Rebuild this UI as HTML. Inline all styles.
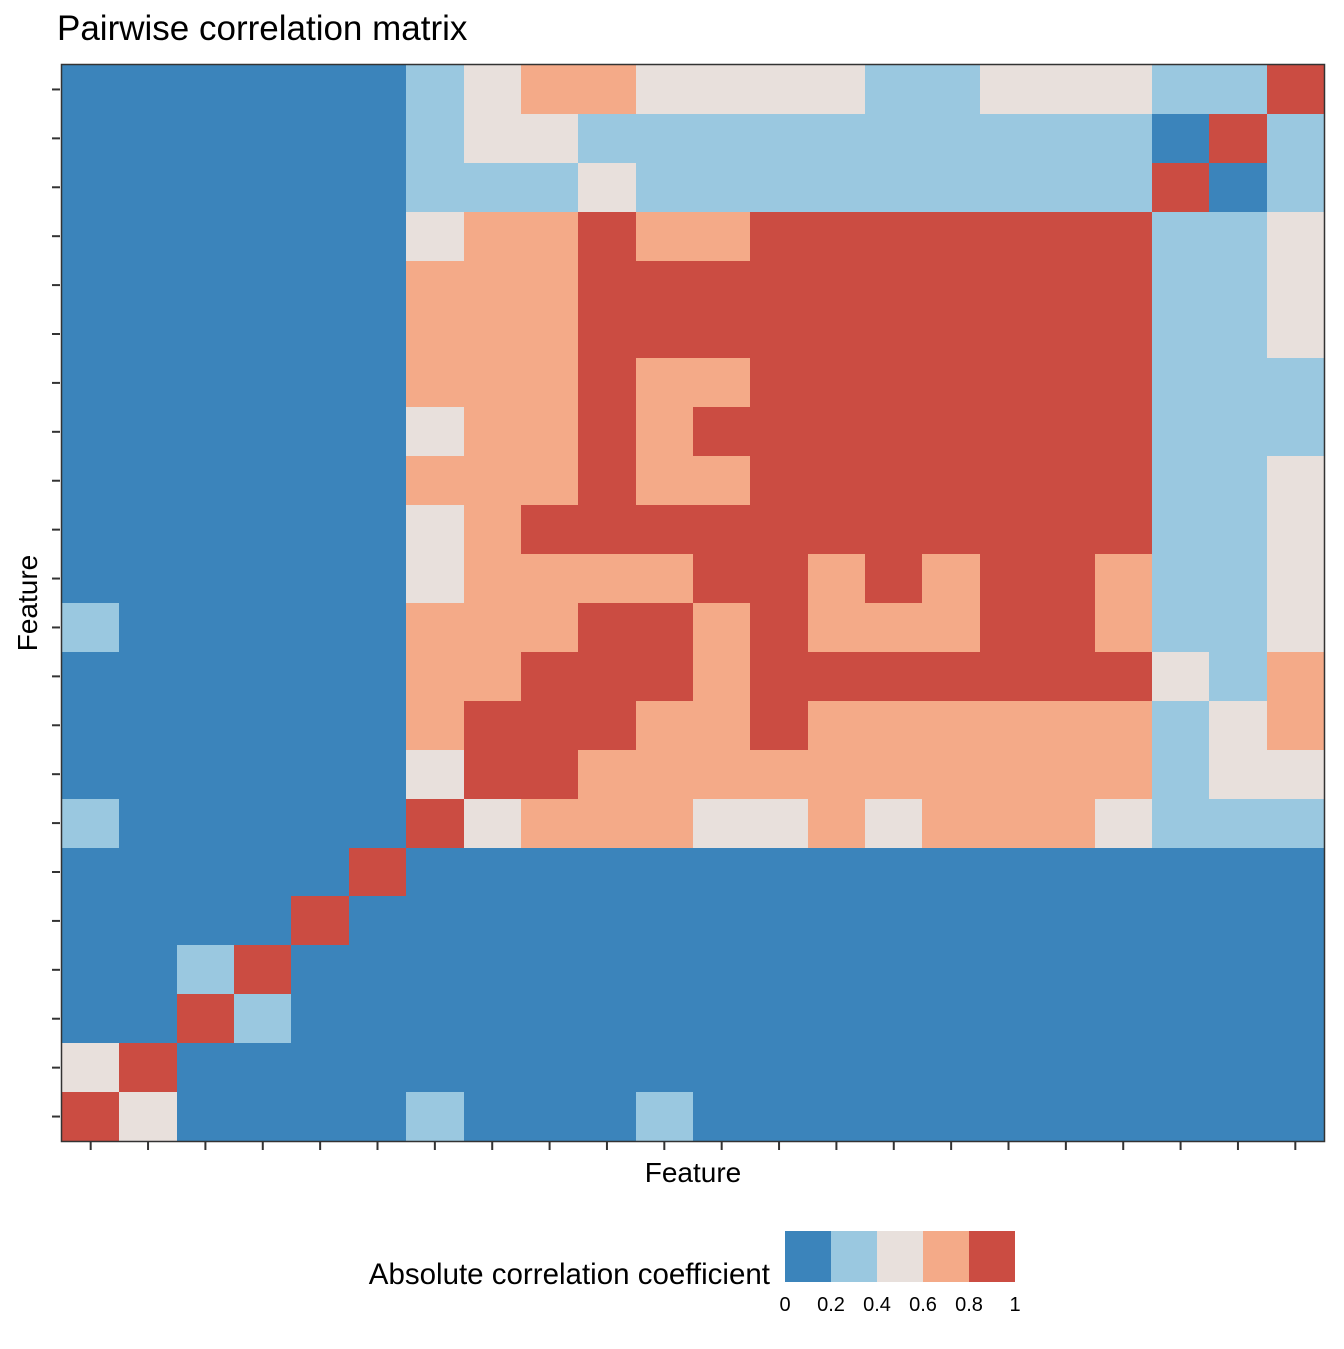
<!DOCTYPE html>
<html><head><meta charset="utf-8">
<style>
body{margin:0;background:#fff;}
svg text{font-family:"Liberation Sans",Arial,sans-serif;fill:#000;}
</style></head>
<body>
<svg id="chart" width="1344" height="1344" xmlns="http://www.w3.org/2000/svg">
<rect width="1344" height="1344" fill="#fff"/>
<text x="57" y="40" font-size="35">Pairwise correlation matrix</text>
<g id="cells" shape-rendering="crispEdges"></g>
<rect x="61.5" y="64.5" width="1263" height="1077" fill="none" stroke="#333" stroke-width="1.5"/>
<g id="ticks"></g>
<text x="693" y="1182" font-size="28" text-anchor="middle">Feature</text>
<text transform="translate(37,603) rotate(-90)" font-size="28" text-anchor="middle">Feature</text>
<text x="770" y="1284" font-size="29.5" text-anchor="end">Absolute correlation coefficient</text>
<g id="legend" shape-rendering="crispEdges"></g>
</svg>
<script>
const categoryColors = ["#3b84bb","#9ac8e0","#e8e0dc","#f4aa88","#cb4c42"];
const legendLabels = ["0","0.2","0.4","0.6","0.8","1"];
const matrix = [
[0,0,0,0,0,0,1,2,3,3,2,2,2,2,1,1,2,2,2,1,1,4],
[0,0,0,0,0,0,1,2,2,1,1,1,1,1,1,1,1,1,1,0,4,1],
[0,0,0,0,0,0,1,1,1,2,1,1,1,1,1,1,1,1,1,4,0,1],
[0,0,0,0,0,0,2,3,3,4,3,3,4,4,4,4,4,4,4,1,1,2],
[0,0,0,0,0,0,3,3,3,4,4,4,4,4,4,4,4,4,4,1,1,2],
[0,0,0,0,0,0,3,3,3,4,4,4,4,4,4,4,4,4,4,1,1,2],
[0,0,0,0,0,0,3,3,3,4,3,3,4,4,4,4,4,4,4,1,1,1],
[0,0,0,0,0,0,2,3,3,4,3,4,4,4,4,4,4,4,4,1,1,1],
[0,0,0,0,0,0,3,3,3,4,3,3,4,4,4,4,4,4,4,1,1,2],
[0,0,0,0,0,0,2,3,4,4,4,4,4,4,4,4,4,4,4,1,1,2],
[0,0,0,0,0,0,2,3,3,3,3,4,4,3,4,3,4,4,3,1,1,2],
[1,0,0,0,0,0,3,3,3,4,4,3,4,3,3,3,4,4,3,1,1,2],
[0,0,0,0,0,0,3,3,4,4,4,3,4,4,4,4,4,4,4,2,1,3],
[0,0,0,0,0,0,3,4,4,4,3,3,4,3,3,3,3,3,3,1,2,3],
[0,0,0,0,0,0,2,4,4,3,3,3,3,3,3,3,3,3,3,1,2,2],
[1,0,0,0,0,0,4,2,3,3,3,2,2,3,2,3,3,3,2,1,1,1],
[0,0,0,0,0,4,0,0,0,0,0,0,0,0,0,0,0,0,0,0,0,0],
[0,0,0,0,4,0,0,0,0,0,0,0,0,0,0,0,0,0,0,0,0,0],
[0,0,1,4,0,0,0,0,0,0,0,0,0,0,0,0,0,0,0,0,0,0],
[0,0,4,1,0,0,0,0,0,0,0,0,0,0,0,0,0,0,0,0,0,0],
[2,4,0,0,0,0,0,0,0,0,0,0,0,0,0,0,0,0,0,0,0,0],
[4,2,0,0,0,0,1,0,0,0,1,0,0,0,0,0,0,0,0,0,0,0]
];
const NS="http://www.w3.org/2000/svg";
const x0=62,x1=1324,y0=65,y1=1141;
const n=matrix.length;
const cw=(x1-x0)/n, ch=(y1-y0)/n;
const xPos=i=>x0+i*cw, yPos=j=>y0+j*ch;
const cells=document.getElementById('cells');
matrix.forEach((row,j)=>row.forEach((v,i)=>{
  const r=document.createElementNS(NS,'rect');
  const xa=Math.round(xPos(i)), xb=Math.round(xPos(i+1));
  const ya=Math.round(yPos(j)), yb=Math.round(yPos(j+1));
  r.setAttribute('x',xa);r.setAttribute('y',ya);
  r.setAttribute('width',xb-xa);r.setAttribute('height',yb-ya);
  r.setAttribute('fill',categoryColors[v]);
  
  
  cells.appendChild(r);
}));
const ticks=document.getElementById('ticks');
for(let k=0;k<n;k++){
  const tx=document.createElementNS(NS,'line');
  const cx=xPos(k)+cw/2;
  tx.setAttribute('x1',cx);tx.setAttribute('x2',cx);tx.setAttribute('y1',1142);tx.setAttribute('y2',1150);
  tx.setAttribute('stroke','#333');tx.setAttribute('stroke-width','2');
  
  
  ticks.appendChild(tx);
  const ty=document.createElementNS(NS,'line');
  const cy=yPos(k)+ch/2;
  ty.setAttribute('x1',52);ty.setAttribute('x2',60);ty.setAttribute('y1',cy);ty.setAttribute('y2',cy);
  ty.setAttribute('stroke','#333');ty.setAttribute('stroke-width','2');
  
  
  ticks.appendChild(ty);
}
const legend=document.getElementById('legend');
const lx=785,lw=46,ly=1231,lh=51;
categoryColors.forEach((c,i)=>{
  const r=document.createElementNS(NS,'rect');
  r.setAttribute('x',lx+i*lw);r.setAttribute('y',ly);r.setAttribute('width',lw);r.setAttribute('height',lh);
  r.setAttribute('fill',c);
  
  
  legend.appendChild(r);
});
legendLabels.forEach((t,i)=>{
  const tx=document.createElementNS(NS,'text');
  tx.setAttribute('x',lx+i*lw);tx.setAttribute('y',1311);
  tx.setAttribute('font-size','20');tx.setAttribute('text-anchor','middle');
  tx.textContent=t;
  
  
  legend.appendChild(tx);
});
</script>
</body></html>
